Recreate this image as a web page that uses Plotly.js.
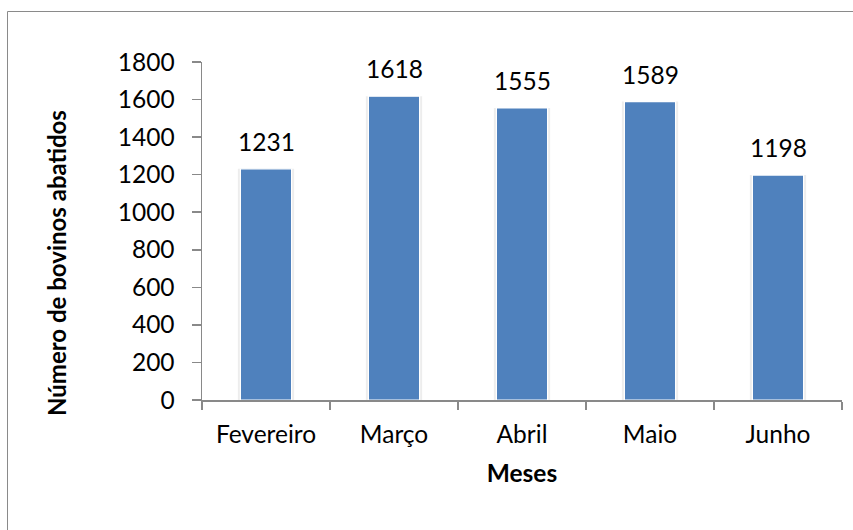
<!DOCTYPE html>
<html>
<head>
<meta charset="utf-8">
<script src="https://cdn.plot.ly/plotly-3.0.1.min.js"></script>
<style>
  html, body { margin: 0; padding: 0; background: #fff; }
  #chart { width: 853px; height: 530px; }
</style>
</head>
<body>
<div id="chart"></div>
<script>
const meses = ["Fevereiro", "Março", "Abril", "Maio", "Junho"];
const abatidos = [1231, 1618, 1555, 1589, 1198];
const yTicks = [0, 200, 400, 600, 800, 1000, 1200, 1400, 1600, 1800];

const FONT = "Lato, 'DejaVu Sans', sans-serif";
const FS = 24.5;
const axisColor = "#898989";

const shadow = {
  type: "bar", x: meses, y: abatidos, width: 0.44,
  marker: { color: "rgba(0,0,0,0.07)", line: { width: 0 } },
  hoverinfo: "skip", showlegend: false
};
const bars = {
  type: "bar", x: meses, y: abatidos, width: 0.4,
  marker: { color: "#4F81BD", line: { color: "#ffffff", width: 1.2 } },
  showlegend: false
};

const labels = meses.map((m, i) => ({
  x: m, y: abatidos[i], xref: "x", yref: "y",
  text: String(abatidos[i]), showarrow: false,
  yanchor: "bottom", yshift: 11,
  font: { family: FONT, size: FS, color: "#000" }
}));

labels.push({
  xref: "paper", yref: "paper", x: (56 - 202) / 640, y: (400 - 263) / 338,
  xanchor: "center", yanchor: "middle",
  text: "<b>Número de bovinos abatidos</b>", textangle: -90, showarrow: false,
  font: { family: FONT, size: 24, color: "#000" }
});

const layout = {
  width: 853, height: 530,
  margin: { l: 202, r: 11, t: 62, b: 130 },
  paper_bgcolor: "#fff", plot_bgcolor: "#fff",
  barmode: "overlay",
  font: { family: FONT, size: FS, color: "#000" },
  xaxis: {
    type: "category",
    showline: true, linecolor: axisColor, linewidth: 1.5,
    ticks: "outside", tickson: "boundaries", ticklen: 8, tickcolor: axisColor, tickwidth: 1.5,
    showgrid: false, zeroline: false,
    ticklabelstandoff: 12,
    tickfont: { family: FONT, size: FS, color: "#000" },
    title: { text: "<b>Meses</b>", font: { family: FONT, size: FS, color: "#000" }, standoff: 18 }
  },
  yaxis: {
    range: [0, 1800], tickvals: yTicks, ticktext: yTicks.map(String),
    showline: true, linecolor: axisColor, linewidth: 1.5,
    ticks: "outside", ticklen: 9, tickcolor: axisColor, tickwidth: 1.5,
    showgrid: false, zeroline: false,
    ticklabelstandoff: 12,
    tickfont: { family: FONT, size: FS, color: "#000" }
  },
  annotations: labels,
  shapes: [
    { type: "line", xref: "paper", yref: "paper", x0: -0.3039, x1: 1.05, y0: 1.1494, y1: 1.1494, line: { color: "#8a8a8a", width: 1 } },
    { type: "line", xref: "paper", yref: "paper", x0: -0.3039, x1: -0.3039, y0: -0.5, y1: 1.1494, line: { color: "#8a8a8a", width: 1 } }
  ]
};

Plotly.newPlot("chart", [shadow, bars], layout, { displayModeBar: false, staticPlot: true });
</script>
</body>
</html>
